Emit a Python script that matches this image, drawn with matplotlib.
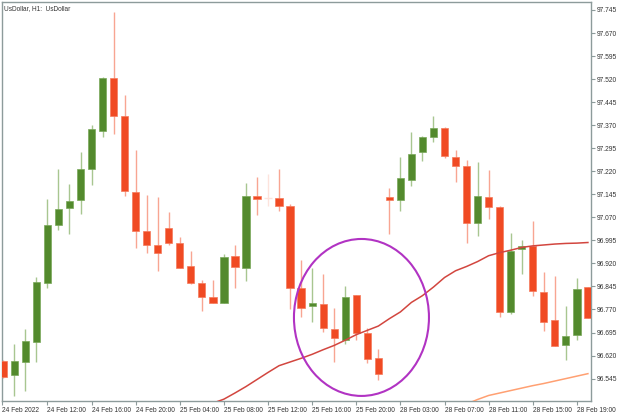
import matplotlib
matplotlib.use("Agg")
import matplotlib.pyplot as plt
from matplotlib.patches import Ellipse
import numpy as np

# UsDollar H1 bars
opens = [96.602, 96.556, 96.599, 96.664, 96.856, 97.045, 97.100, 97.126, 97.227, 97.351,
         97.524, 97.400, 97.152, 97.025, 96.980, 97.035, 96.986, 96.911, 96.856, 96.811,
         96.791, 96.944, 96.905, 97.139, 97.133, 97.133, 97.107, 96.840, 96.781, 96.788,
         96.706, 96.670, 96.817, 96.693, 96.612, 97.136, 97.126, 97.191, 97.283, 97.332,
         97.361, 97.266, 97.237, 97.051, 97.136, 97.103, 96.762, 96.967, 96.976, 96.827,
         96.736, 96.654, 96.687, 96.843]
highs = [96.605, 96.657, 96.706, 96.876, 97.130, 97.227, 97.178, 97.283, 97.371, 97.527,
         97.7385, 97.468, 97.289, 97.143, 97.136, 97.087, 97.006, 96.960, 96.866, 96.866,
         96.951, 96.980, 97.182, 97.201, 97.211, 97.227, 97.113, 96.931, 96.905, 96.885,
         96.774, 96.846, 96.817, 96.710, 96.641, 97.165, 97.266, 97.348, 97.335, 97.400,
         97.364, 97.289, 97.257, 97.250, 97.224, 97.107, 97.019, 96.996, 97.058, 96.892,
         96.879, 96.781, 96.872, 96.843]
lows = [96.547, 96.488, 96.504, 96.599, 96.840, 97.029, 97.016, 97.081, 97.175, 97.332,
        97.341, 97.139, 96.970, 96.954, 96.895, 96.980, 96.905, 96.853, 96.765, 96.791,
        96.791, 96.840, 96.863, 97.077, 97.107, 97.090, 96.771, 96.745, 96.729, 96.696,
        96.599, 96.657, 96.670, 96.595, 96.540, 97.016, 97.090, 97.172, 97.253, 97.315,
        97.263, 97.185, 96.986, 97.009, 97.064, 96.745, 96.755, 96.885, 96.814, 96.700,
        96.651, 96.605, 96.670, 96.742]
closes = [96.550, 96.602, 96.667, 96.859, 97.045, 97.097, 97.123, 97.227, 97.358, 97.524,
          97.400, 97.156, 97.025, 96.980, 96.954, 96.986, 96.905, 96.856, 96.811, 96.791,
          96.941, 96.908, 97.139, 97.130, 97.133, 97.107, 96.840, 96.774, 96.791, 96.710,
          96.677, 96.811, 96.693, 96.609, 96.560, 97.126, 97.198, 97.276, 97.332, 97.361,
          97.270, 97.237, 97.051, 97.139, 97.103, 96.762, 96.960, 96.976, 96.830, 96.729,
          96.651, 96.683, 96.837, 96.742]

# moving averages (first bar index where they are shown)
ma_slow_first = 19
ma_slow = [96.465, 96.478, 96.498, 96.519, 96.542, 96.565, 96.587, 96.599, 96.611, 96.624,
           96.639, 96.653, 96.670, 96.688, 96.702, 96.716, 96.740, 96.762, 96.793, 96.815,
           96.843, 96.874, 96.896, 96.910, 96.926, 96.945, 96.955, 96.963, 96.972, 96.977,
           96.980, 96.983, 96.985, 96.986, 96.988]
ma_long_first = 42
ma_long = [96.462, 96.477, 96.490, 96.498, 96.506, 96.514, 96.522, 96.529, 96.537, 96.545,
           96.553, 96.561]

xtick_bars = [4, 8, 12, 16, 20, 24, 28, 32, 36, 40, 44, 48, 52]
xtick_text = ["24 Feb 12:00", "24 Feb 16:00", "24 Feb 20:00", "25 Feb 04:00", "25 Feb 08:00",
              "25 Feb 12:00", "25 Feb 16:00", "25 Feb 20:00", "28 Feb 03:00", "28 Feb 07:00",
              "28 Feb 11:00", "28 Feb 15:00", "28 Feb 19:00"]
ytick_vals = [96.545, 96.620, 96.695, 96.770, 96.845, 96.920, 96.995, 97.070, 97.145,
              97.220, 97.295, 97.370, 97.445, 97.520, 97.595, 97.670, 97.745]

plt.rcParams['font.family'] = ['Liberation Sans', 'DejaVu Sans']
frame_col = "#8d9b9b"
up_col, up_wick = "#538a2d", "#a8c690"
dn_col, dn_wick = "#f04a23", "#f8a592"

fig = plt.figure(figsize=(6.24, 4.16), dpi=100)
ax = fig.add_axes([2/624, 15/416, 589/624, 399/416])

o = np.array(opens); c = np.array(closes)
h = np.array(highs); l = np.array(lows)
x = np.arange(len(o))
up = c > o
down = c < o
flat = c == o

ax.vlines(x[up], l[up], h[up], color=up_wick, lw=1, zorder=2)
ax.vlines(x[down], l[down], h[down], color=dn_wick, lw=1, zorder=2)
ax.vlines(x[flat], l[flat], h[flat], color="#fde3dc", lw=1, zorder=2)
ax.hlines(o[flat], x[flat] - 0.33, x[flat] + 0.33, color="#fde3dc", lw=1, zorder=2)

ax.bar(x[up], c[up] - o[up], bottom=o[up], width=0.66, color=up_col,
       edgecolor="#79a85a", lw=0.5, zorder=3)
ax.bar(x[down], c[down] - o[down], bottom=o[down], width=0.66, color=dn_col,
       edgecolor="#f57a5c", lw=0.5, zorder=3)

ax.plot(np.arange(ma_slow_first, ma_slow_first + len(ma_slow)), ma_slow,
        color="#d2463f", lw=1.1, zorder=4)
ax.plot(np.arange(ma_long_first, ma_long_first + len(ma_long)), ma_long,
        color="#ffa072", lw=1.1, zorder=4)

ax.add_patch(Ellipse((32.47, 96.744), 12.24, 0.511, fill=False,
                     edgecolor="#b133c3", lw=1.5, zorder=5))

ax.set_xlim(-0.118, 53.28)
ax.set_ylim(96.472, 97.771)

ax.yaxis.tick_right()
ax.set_yticks(ytick_vals)
ax.set_yticklabels(["%.3f" % v for v in ytick_vals])
ax.set_xticks([-0.118] + xtick_bars)
ax.set_xticklabels(["24 Feb 2022"] + xtick_text)
for t in ax.get_xticklabels():
    t.set_horizontalalignment("left")
ax.tick_params(axis="both", direction="out", length=3, width=0.8, color=frame_col,
               labelsize=4.8, labelcolor="#333333")
ax.tick_params(axis="x", pad=1)
ax.tick_params(axis="y", pad=1)
for s in ax.spines.values():
    s.set_color(frame_col)
    s.set_linewidth(1)

ax.text(0.004, 0.993, "UsDollar, H1:  UsDollar", transform=ax.transAxes,
        fontsize=4.7, color="#333333", va="top", ha="left")

fig.savefig("out.png", dpi=100)
